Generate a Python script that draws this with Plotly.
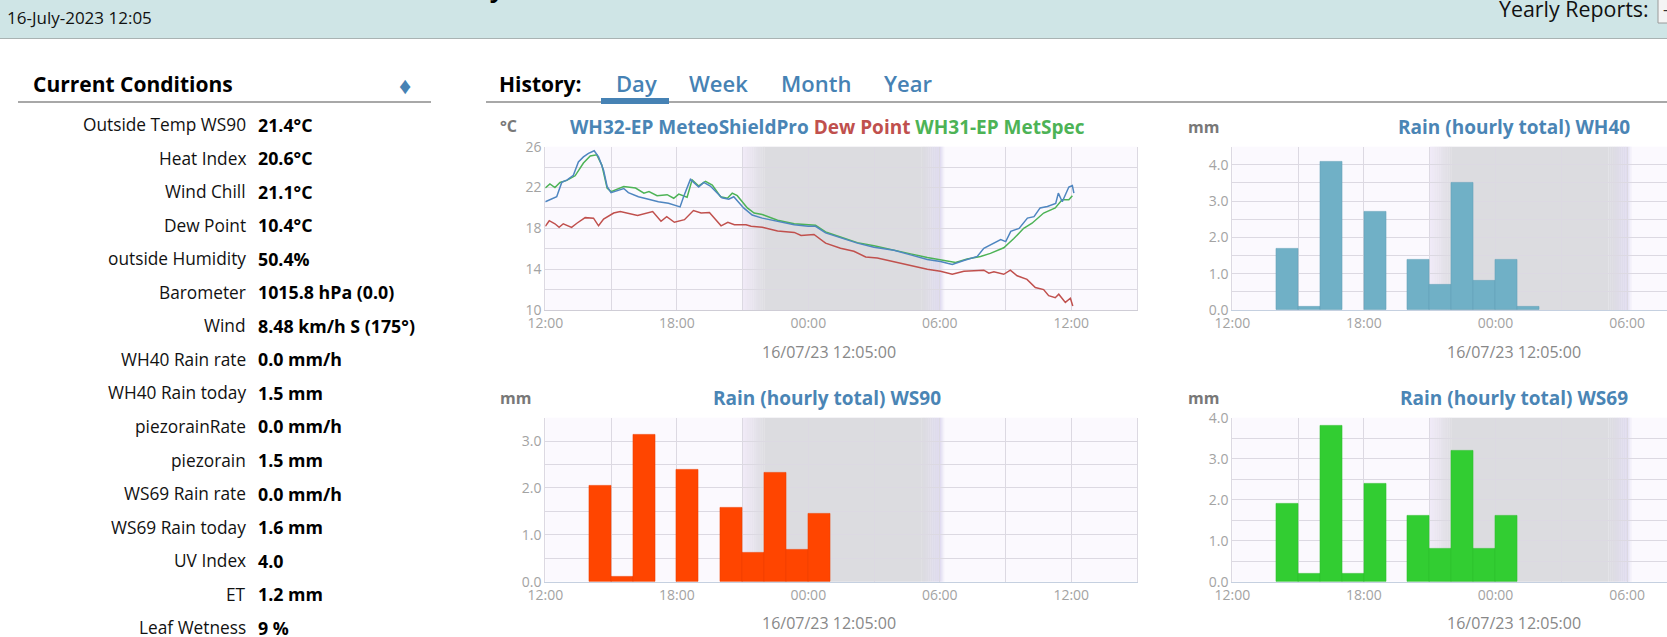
#!/usr/bin/env python3
"""Weather station page: current conditions list and four history charts."""
import pandas as pd
import plotly.graph_objects as go

W, H = 1667, 637

# ── Data ─────────────────────────────────────────────────────
condition_labels = ["Outside Temp WS90", "Heat Index", "Wind Chill", "Dew Point", "outside Humidity",
                    "Barometer", "Wind", "WH40 Rain rate", "WH40 Rain today", "piezorainRate",
                    "piezorain", "WS69 Rain rate", "WS69 Rain today", "UV Index", "ET", "Leaf Wetness"]
condition_values = ["21.4°C", "20.6°C", "21.1°C", "10.4°C", "50.4%", "1015.8 hPa (0.0)", "8.48 km/h S (175°)",
                    "0.0 mm/h", "1.5 mm", "0.0 mm/h", "1.5 mm", "0.0 mm/h", "1.6 mm", "4.0", "1.2 mm", "9 %"]
tab_labels = ["Day", "Week", "Month", "Year"]

# temperature series, hours after 12:00 on the first day
blue_hours = [0.0, 0.52, 0.75, 1.0, 1.28, 1.51, 1.74, 1.97, 2.23, 2.43, 2.66, 2.82, 3.0, 3.27, 3.58, 3.79, 4.25,
              4.71, 5.16, 5.62, 6.15, 6.31, 6.62, 7.0, 7.23, 7.53, 8.06, 8.37, 8.6, 9.05, 9.44, 9.9, 10.6, 11.36,
              12.0, 12.33, 12.79, 13.47, 14.24, 15.0, 15.91, 16.67, 17.43, 18.03, 18.57, 19.1, 19.71, 20.01, 20.47,
              20.78, 21.01, 21.24, 21.62, 22.0, 22.3, 22.58, 22.91, 23.29, 23.41, 23.59, 23.89, 24.05, 24.12]
blue_temp = [20.6, 21.1, 22.5, 22.75, 23.2, 24.5, 25.0, 25.35, 25.6, 25.0, 23.7, 22.1, 21.5, 21.7, 21.9, 21.5, 21.1,
             20.85, 20.6, 20.45, 20.1, 21.1, 22.8, 22.05, 22.5, 22.15, 21.0, 20.85, 21.1, 20.0, 19.3, 19.0, 18.7,
             18.35, 18.2, 18.2, 17.55, 17.05, 16.55, 16.15, 15.85, 15.4, 14.95, 14.75, 14.45, 14.85, 15.25, 16.05,
             16.55, 16.9, 16.7, 17.7, 18.0, 19.0, 19.15, 20.0, 20.15, 20.45, 21.45, 20.6, 22.05, 22.2, 21.45]
green_hours = [0.0, 0.21, 0.44, 0.67, 0.98, 1.36, 1.74, 2.05, 2.35, 2.58, 2.82, 3.0, 3.58, 4.12, 4.5, 4.73, 5.1,
               5.56, 5.86, 6.09, 6.47, 6.7, 7.0, 7.31, 7.62, 8.0, 8.31, 8.53, 8.76, 9.22, 9.53, 9.9, 10.6, 11.36,
               12.33, 12.79, 13.47, 14.24, 15.0, 15.91, 16.67, 17.43, 18.03, 18.72, 19.25, 19.86, 20.31, 20.92,
               21.38, 21.83, 22.21, 22.74, 23.27, 23.58, 23.89, 24.05]
green_temp = [21.95, 22.35, 22.0, 22.5, 22.7, 23.15, 24.4, 25.1, 25.2, 24.2, 21.95, 21.6, 22.1, 21.95, 21.45, 21.6,
              21.2, 21.3, 20.95, 21.35, 21.05, 22.75, 22.15, 22.6, 22.25, 21.1, 20.95, 21.45, 21.2, 20.0, 19.5, 19.35,
              18.8, 18.45, 18.3, 17.65, 17.15, 16.6, 16.3, 15.9, 15.5, 15.15, 14.9, 14.65, 15.0, 15.25, 15.55, 16.1,
              17.0, 18.0, 18.5, 19.5, 20.0, 20.8, 20.8, 21.2]
dew_hours = [0.0, 0.18, 0.44, 0.63, 0.82, 1.2, 1.44, 1.82, 2.2, 2.43, 2.66, 3.12, 3.42, 4.21, 4.9, 5.28, 5.54, 5.89,
             6.35, 6.76, 7.11, 7.49, 8.02, 8.33, 8.63, 9.16, 9.39, 9.9, 10.6, 11.36, 11.67, 12.26, 12.79, 13.47, 14.08,
             14.62, 15.15, 15.91, 16.67, 17.43, 18.03, 18.57, 19.1, 20.01, 20.24, 20.47, 20.92, 21.22, 21.53, 21.98,
             22.36, 22.74, 22.97, 23.27, 23.43, 23.73, 23.96, 24.07]
dew_point = [18.2, 18.75, 18.45, 18.1, 18.45, 18.1, 18.5, 19.05, 19.0, 18.25, 18.9, 19.5, 19.65, 19.25, 19.65, 18.7,
             19.15, 18.6, 18.85, 19.75, 19.5, 19.55, 18.25, 18.6, 18.35, 18.35, 18.2, 18.1, 17.75, 17.6, 17.3, 17.4,
             16.55, 16.05, 15.75, 15.2, 15.1, 14.75, 14.4, 14.0, 13.8, 13.5, 13.8, 13.9, 13.6, 13.75, 13.5, 13.9,
             13.35, 13.0, 12.2, 12.0, 11.4, 11.2, 11.55, 10.75, 11.15, 10.4]

# hourly rain bars, hours after 12:00
rain_hours = [2, 3, 4, 5, 6, 7, 8, 9, 10, 11, 12, 13]
rain_wh40 = [1.7, 0.1, 4.1, None, 2.7, None, 1.4, 0.7, 3.5, 0.8, 1.4, 0.1]
rain_ws90 = [2.05, 0.1, 3.13, None, 2.39, None, 1.57, 0.61, 2.33, 0.69, 1.46, None]
rain_ws69 = [1.9, 0.2, 3.8, 0.2, 2.4, None, 1.6, 0.8, 3.2, 0.8, 1.6, None]

stamp = "16/07/23 12:05:00"

# ── Style ────────────────────────────────────────────────────
FONT = "Open Sans"
STEEL = "#4682B4"
TITLE_BLUE = "#4A85B5"
DEW = "#C0504D"
GREEN = "#4DB356"
GRID = "#DCD9E2"
TICK = "#A3A3A3"
HOUR_MS = 3600000
START = pd.Timestamp("2023-07-15 12:00")


def to_time(hours):
    return START + pd.to_timedelta(pd.Series(hours, dtype=float), unit="h")


def px(x):
    return x / W


def py(y):
    return 1 - y / H


fig = go.Figure()
shapes = []
notes = []


def text(x, y, s, size=16, color="#111111", weight=400, anchor="left"):
    notes.append(dict(x=px(x), y=py(y), xref="paper", yref="paper", text=s,
                      showarrow=False, xanchor=anchor, yanchor="middle",
                      font=dict(family=FONT, size=size, color=color, weight=weight)))


def rect(x0, y0, x1, y1, color):
    shapes.append(dict(type="rect", xref="paper", yref="paper", x0=px(x0), x1=px(x1), y0=py(y0), y1=py(y1),
                       fillcolor=color, line=dict(width=0), layer="below"))


def mix(a, b, t):
    return "rgb(" + ",".join(str(round(a[i] + (b[i] - a[i]) * t)) for i in range(3)) + ")"


def night_bands(axis_name):
    # 21:00-06:00 shading, faded at both ends
    pale, dusk, dawn, grey = (250, 248, 254), (240, 234, 247), (224, 220, 240), (220, 220, 224)
    xref, yref = "x" + axis_name, "y" + axis_name

    def band(h0, h1, color):
        shapes.append(dict(type="rect", xref=xref, yref=yref + " domain", x0=START + pd.Timedelta(hours=h0),
                           x1=START + pd.Timedelta(hours=h1), y0=0, y1=1,
                           fillcolor=color, line=dict(width=0), layer="below"))

    steps = 10
    band(10, 17.15, mix(grey, grey, 0))
    for i in range(steps):
        t = i / steps
        band(9 + t, 9 + t + 1 / steps + 0.01, mix(dusk, grey, t))
        band(17.15 + 0.85 * t, 17.15 + 0.85 * (t + 1 / steps) + 0.01, mix(grey, dawn, t))
    for i in range(4):
        t = i / 4
        band(18 + 0.2 * t, 18 + 0.2 * (t + 0.25) + 0.01, mix(dawn, pale, t))


def axes(axis_name, x0, x1, y0, y1, x_end, y_max, y_major, y_minor, y_fmt, base_color):
    x_cfg = dict(domain=[px(x0), px(x1)], type="date", range=[START, START + pd.Timedelta(hours=x_end)],
                 tick0=START, dtick=6 * HOUR_MS, tickformat="%H:%M", showgrid=True, gridcolor=GRID, gridwidth=1,
                 minor=dict(dtick=3 * HOUR_MS, tick0=START, showgrid=True, gridcolor=GRID, gridwidth=1),
                 showline=True, linecolor=base_color, linewidth=1, mirror=False, ticks="", zeroline=False,
                 tickfont=dict(family=FONT, size=14, color=TICK), anchor="y" + axis_name,
                 hoverformat="%H:%M")
    y_cfg = dict(domain=[py(y1), py(y0)], range=[0 if y_max < 10 else 10, y_max], dtick=y_major, tick0=0 if y_max < 10 else 10,
                 tickformat=y_fmt, showgrid=True, gridcolor=GRID, gridwidth=1.4,
                 minor=dict(dtick=y_minor, showgrid=True, gridcolor=GRID, gridwidth=1.4),
                 showline=True, linecolor=GRID, linewidth=1, mirror=True, ticks="", zeroline=False,
                 tickfont=dict(family=FONT, size=14, color=TICK), anchor="x" + axis_name)
    fig.update_layout(**{"xaxis" + axis_name: x_cfg, "yaxis" + axis_name: y_cfg})


def add_rain(values, color, edge, axis_name):
    fig.add_trace(go.Bar(x=to_time(rain_hours), y=values, offset=0, width=HOUR_MS,
                         marker=dict(color=color, line=dict(color=edge, width=0.6)),
                         showlegend=False, xaxis="x" + axis_name, yaxis="y" + axis_name))


# ── Temperature chart ────────────────────────────────────────
for hrs, vals, col in [(dew_hours, dew_point, DEW), (green_hours, green_temp, GREEN), (blue_hours, blue_temp, "#4F86C0")]:
    fig.add_trace(go.Scatter(x=to_time(hrs), y=vals, mode="lines", line=dict(color=col, width=1.5),
                             showlegend=False, xaxis="x", yaxis="y"))
axes("", 545.3, 1137, 146.7, 310, 27, 26, 4, 2, "d", "#CFCDD6")
night_bands("")

# ── Rain charts ──────────────────────────────────────────────
add_rain(rain_wh40, "#70B0C6", "#64A2B8", "2")
axes("2", 1232.3, 1667, 146.7, 310, 19.82, 4.5, 1, 0.5, ".1f", "#C5D0E0")
night_bands("2")
add_rain(rain_ws90, "#FF4500", "#EE4000", "3")
axes("3", 545.3, 1137, 417.7, 581.7, 27, 3.5, 1, 0.5, ".1f", "#C5D0E0")
night_bands("3")
add_rain(rain_ws69, "#32CD32", "#2EBF2E", "4")
axes("4", 1232.3, 1667, 417.7, 581.7, 19.82, 4.0, 1, 0.5, ".1f", "#C5D0E0")
night_bands("4")

# ── Chart captions ───────────────────────────────────────────
notes.append(dict(x=px(827), y=py(127), xref="paper", yref="paper", showarrow=False, xanchor="center", yanchor="middle",
                  text=f"<span style='color:{TITLE_BLUE}'>WH32-EP MeteoShieldPro</span> "
                       f"<span style='color:{DEW}'>Dew Point</span> "
                       f"<span style='color:{GREEN}'>WH31-EP MetSpec</span>",
                  font=dict(family=FONT, size=19, weight=700)))
text(1514, 127, "Rain (hourly total) WH40", 19, TITLE_BLUE, 700, "center")
text(827, 398, "Rain (hourly total) WS90", 19, TITLE_BLUE, 700, "center")
text(1514, 398, "Rain (hourly total) WS69", 19, TITLE_BLUE, 700, "center")
text(508, 126, "°C", 16, "#787878", 700, "center")
text(1203, 127, "mm", 16, "#787878", 700, "center")
text(515, 398, "mm", 16, "#787878", 700, "center")
text(1203, 398, "mm", 16, "#787878", 700, "center")
for cx, cy in [(829, 352), (1514, 352), (829, 623), (1514, 623)]:
    text(cx, cy, stamp, 16, "#888888", 400, "center")

# ── Page furniture ───────────────────────────────────────────
rect(0, 0, W, 38, "#CFE5E6")
rect(0, 38, W, 39, "#A9B3B3")
rect(18, 101, 431, 103, "#A8A8A8")
rect(486, 101, W, 103, "#A8A8A8")
rect(601, 98, 669, 104, STEEL)
shapes.append(dict(type="rect", xref="paper", yref="paper", x0=px(1658), x1=px(1680), y0=py(-6), y1=py(23),
                   fillcolor="#F4F4F4", line=dict(color="#9A9A9A", width=1), layer="below"))
text(5, 18, "16-July-2023 12:05", 17)
text(497, -15, "y", 28, "#000000", 600, "center")
text(1497, 8.5, "Yearly Reports:", 21.4)
text(1665, 9, "-", 16, "#333333", 400, "center")
text(31, 84, "Current Conditions", 21, "#000000", 700)
text(405, 85, "♦", 24, STEEL, 400, "center")
text(497, 84, "History:", 21, "#000000", 700)
for label, lx in zip(tab_labels, [636, 718.7, 816, 908]):
    text(lx, 83, label, 22, STEEL, 600, "center")
for i, (label, value) in enumerate(zip(condition_labels, condition_values)):
    row_y = 124.5 + i * 33.55
    text(248, row_y, label, 17.3, "#111111", 400, "right")
    text(256, row_y, value, 17.8, "#000000", 700)

fig.update_layout(width=W, height=H, margin=dict(l=0, r=0, t=0, b=0, autoexpand=False), autosize=False,
                  paper_bgcolor="white", plot_bgcolor="#FBF9FE", bargap=0, showlegend=False,
                  font=dict(family=FONT), shapes=shapes, annotations=notes)

fig.write_html("out.html", config={"displayModeBar": False}, post_script="document.body.style.margin='0';")
